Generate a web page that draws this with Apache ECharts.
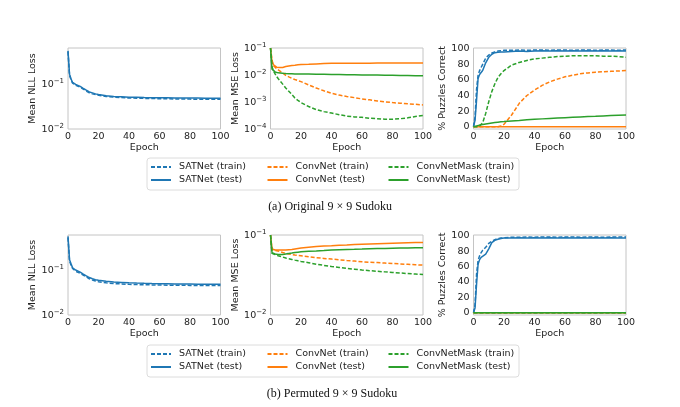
<!DOCTYPE html>
<html>
<head>
<meta charset="utf-8">
<script src="https://cdn.jsdelivr.net/npm/echarts@6/dist/echarts.min.js"></script>
<style>
  html, body { margin: 0; padding: 0; background: #fff; }
  #chart { width: 680px; height: 407px; }
</style>
</head>
<body>
<div id="chart"></div>
<script>
/* SATNet vs ConvNet sudoku training curves */
var epochs = [0, 1, 2, 3, 4, 5, 6, 8, 10, 12, 14, 16, 18, 20, 25, 30, 35, 40, 45, 50, 55, 60, 65, 70, 75, 80, 85, 90, 95, 100];

// (a) original sudoku
var satNllTrainA = [0.50, 0.15, 0.12, 0.102, 0.095, 0.092, 0.089, 0.083, 0.075, 0.068, 0.062, 0.059, 0.057, 0.055, 0.052, 0.050, 0.049, 0.048, 0.0474, 0.047, 0.0466, 0.0463, 0.046, 0.0457, 0.0455, 0.0453, 0.0451, 0.045, 0.0449, 0.0448];
var satNllTestA = [0.52, 0.16, 0.125, 0.105, 0.098, 0.095, 0.092, 0.086, 0.078, 0.071, 0.065, 0.062, 0.059, 0.057, 0.054, 0.052, 0.051, 0.050, 0.0495, 0.049, 0.0488, 0.0485, 0.0483, 0.0481, 0.048, 0.0478, 0.0477, 0.0476, 0.0475, 0.0475];
var convMseTrainA = [0.1, 0.035, 0.022, 0.019, 0.017, 0.0155, 0.0143, 0.012, 0.0097, 0.0085, 0.0075, 0.0068, 0.0062, 0.0057, 0.0043, 0.0033, 0.0026, 0.0021, 0.0018, 0.0016, 0.00145, 0.0013, 0.0012, 0.0011, 0.00102, 0.00095, 0.0009, 0.00086, 0.00082, 0.00078];
var convMseTestA = [0.1, 0.03, 0.024, 0.021, 0.0195, 0.019, 0.0188, 0.019, 0.0205, 0.0215, 0.0225, 0.023, 0.0238, 0.0243, 0.025, 0.0258, 0.0265, 0.027, 0.0272, 0.0273, 0.0274, 0.0275, 0.0275, 0.0276, 0.0276, 0.0277, 0.0277, 0.0277, 0.0278, 0.0278];
var maskMseTrainA = [0.1, 0.02, 0.014, 0.011, 0.0088, 0.0074, 0.0063, 0.0046, 0.0033, 0.0025, 0.0019, 0.0014, 0.00115, 0.00095, 0.00068, 0.00052, 0.00044, 0.00039, 0.00034, 0.0003, 0.00028, 0.00027, 0.00025, 0.00024, 0.00023, 0.00023, 0.00024, 0.00026, 0.00029, 0.00032];
var maskMseTestA = [0.1, 0.0165, 0.014, 0.013, 0.0125, 0.012, 0.0118, 0.0115, 0.0113, 0.0112, 0.0111, 0.011, 0.011, 0.0109, 0.0108, 0.0107, 0.0106, 0.0105, 0.0104, 0.0103, 0.0102, 0.0101, 0.01, 0.0099, 0.0098, 0.0097, 0.0096, 0.0095, 0.0094, 0.0093];
var satPctTrainA = [0, 12, 48, 66, 72, 76, 80, 88, 92, 94.5, 96, 97, 97.5, 98, 98, 98.5, 98, 98.5, 98.5, 98, 98.5, 98.5, 98, 98.5, 98.5, 98, 98.5, 98.5, 98, 98.5];
var satPctTestA = [0, 8, 34, 62, 67, 69, 72, 82, 89, 93, 95, 95.5, 96, 96, 96.5, 97, 96.5, 97, 97.5, 97, 97.5, 97, 97.5, 97, 97.5, 97, 97.5, 97, 97.5, 97];
var convPctTrainA = [0, 0, 0, 0, 0, 0, 0, 0, 0, 0, 0, 0, 1, 3, 15, 30, 40, 47, 53, 57.5, 61, 64, 66, 68, 69, 70, 70.5, 71, 71.5, 72];
var convPctTestA = [0, 0, 0, 0, 0, 0, 0, 0, 0, 0, 0, 0, 0, 0, 0, 0, 0, 0, 0, 0, 0, 0, 0, 0, 0, 0, 0, 0, 0, 0];
var maskPctTrainA = [0, 0, 0, 0.5, 1, 2, 5, 17, 32, 45, 55, 63, 68, 72, 79, 82.5, 85, 87, 88, 89, 90, 90.5, 91, 91, 91, 91, 90.5, 90.5, 90, 89];
var maskPctTestA = [0, 0.5, 1, 1.5, 2, 2.3, 2.7, 3.5, 4.2, 4.8, 5.3, 5.8, 6.2, 6.5, 7.3, 8, 8.8, 9.5, 10, 10.5, 11, 11.5, 12, 12.5, 13, 13.3, 13.8, 14.2, 14.6, 15];

// (b) permuted sudoku
var satNllTrainB = [0.52, 0.16, 0.128, 0.108, 0.098, 0.094, 0.09, 0.085, 0.077, 0.07, 0.064, 0.06, 0.057, 0.055, 0.052, 0.05, 0.049, 0.048, 0.0475, 0.047, 0.0467, 0.0464, 0.0461, 0.0459, 0.0457, 0.0455, 0.0453, 0.0452, 0.0451, 0.045];
var satNllTestB = [0.56, 0.17, 0.137, 0.112, 0.103, 0.1, 0.096, 0.09, 0.081, 0.074, 0.068, 0.064, 0.061, 0.059, 0.056, 0.054, 0.053, 0.052, 0.0512, 0.0505, 0.05, 0.0496, 0.0493, 0.049, 0.0488, 0.0486, 0.0484, 0.0482, 0.0481, 0.048];
var convMseTrainB = [0.1, 0.066, 0.065, 0.064, 0.0635, 0.063, 0.062, 0.0605, 0.059, 0.058, 0.057, 0.0562, 0.0555, 0.055, 0.0535, 0.052, 0.051, 0.05, 0.049, 0.048, 0.0472, 0.0463, 0.0457, 0.0452, 0.0446, 0.044, 0.0435, 0.043, 0.0425, 0.042];
var convMseTestB = [0.1, 0.067, 0.066, 0.065, 0.065, 0.065, 0.065, 0.065, 0.065, 0.0655, 0.066, 0.067, 0.068, 0.069, 0.0705, 0.072, 0.073, 0.0736, 0.0745, 0.0752, 0.076, 0.0766, 0.0772, 0.0778, 0.0784, 0.079, 0.0795, 0.08, 0.0803, 0.0805];
var maskMseTrainB = [0.1, 0.059, 0.058, 0.057, 0.056, 0.055, 0.0543, 0.053, 0.0515, 0.0505, 0.0495, 0.0485, 0.0476, 0.0467, 0.045, 0.0432, 0.0417, 0.0403, 0.0393, 0.0383, 0.0374, 0.0365, 0.0358, 0.0352, 0.0346, 0.034, 0.0335, 0.033, 0.0325, 0.032];
var maskMseTestB = [0.1, 0.06, 0.059, 0.058, 0.0575, 0.057, 0.057, 0.0572, 0.058, 0.0588, 0.0595, 0.0603, 0.061, 0.0616, 0.0625, 0.0632, 0.064, 0.065, 0.0655, 0.066, 0.0663, 0.0667, 0.0672, 0.0676, 0.068, 0.0684, 0.0687, 0.069, 0.0692, 0.0694];
var satPctTrainB = [0, 10, 50, 68, 74, 78, 81, 85, 90, 93, 95, 96.5, 97, 97.5, 98, 98, 98.5, 98, 98.5, 98.5, 98, 98.5, 98.5, 98, 98.5, 98.5, 98, 98.5, 98.5, 98.5];
var satPctTestB = [0, 6, 37, 63, 69, 72, 74, 76, 83, 91, 94, 95.5, 96.5, 97, 97, 97.5, 97, 97.5, 97, 97.5, 97, 97.5, 97, 97.5, 97, 97.5, 97, 97.5, 97, 97];
var zeroPctB = [0, 0, 0, 0, 0, 0, 0, 0, 0, 0, 0, 0, 0, 0, 0, 0, 0, 0, 0, 0, 0, 0, 0, 0, 0, 0, 0, 0, 0, 0];

var xTicks = [0, 20, 40, 60, 80, 100];
var pctTicks = [0, 20, 40, 60, 80, 100];
var nllTicks = [0.01, 0.1];
var mseTicksA = [0.0001, 0.001, 0.01, 0.1];
var mseTicksB = [0.01, 0.1];

var BLUE = '#1f77b4', ORANGE = '#ff7f0e', GREEN = '#2ca02c';
var FONT = '"DejaVu Sans", sans-serif';

(function () {
  'use strict';
  var chart = echarts.init(document.getElementById('chart'), null, { renderer: 'canvas' });

  // 10^p as base + raised exponent
  function powLabel(v) {
    var p = Math.round(Math.log10(v));
    return '{b|10}{s|' + (p < 0 ? '\u2212' + (-p) : p) + '}';
  }
  function pairs(vals) {
    return epochs.map(function (e, i) { return [e, vals[i]]; });
  }

  var lefts = [68, 270.5, 473.5];
  var tops = [48, 235];
  var grids = [], xAxes = [], yAxes = [];
  var yNames = ['Mean NLL Loss', 'Mean MSE Loss', '% Puzzles Correct'];
  var yGaps = [25, 24.5, 21.5];
  var yCfg = [
    { type: 'log', min: 0.01, max: 0.6, ticks: nllTicks },
    { type: 'log', min: 0.0001, max: 0.1, ticks: mseTicksA },
    { type: 'value', min: -3, max: 101, ticks: pctTicks },
    { type: 'log', min: 0.01, max: 0.6, ticks: nllTicks },
    { type: 'log', min: 0.01, max: 0.1, ticks: mseTicksB },
    { type: 'value', min: -3, max: 101, ticks: pctTicks }
  ];
  var labelRich = {
    b: { fontSize: 9.5, color: '#222', fontFamily: FONT, lineHeight: 12, verticalAlign: 'bottom' },
    s: { fontSize: 7, color: '#222', fontFamily: FONT, lineHeight: 6, verticalAlign: 'top' }
  };

  for (var i = 0; i < 6; i++) {
    var c = i % 3, r = Math.floor(i / 3);
    grids.push({
      left: lefts[c], top: tops[r], width: 152.5, height: r === 0 ? 81 : 80,
      show: true, borderColor: '#c4c4c4', borderWidth: 1, backgroundColor: '#fff'
    });
    xAxes.push({
      gridIndex: i, type: 'value', min: 0, max: 100,
      name: 'Epoch', nameLocation: 'middle', nameGap: 12.5,
      nameTextStyle: { fontSize: 9.5, color: '#222', fontFamily: FONT },
      axisLine: { show: false }, axisTick: { show: false }, splitLine: { show: false },
      axisLabel: { customValues: xTicks, margin: 3, fontSize: 9.5, color: '#222', fontFamily: FONT }
    });
    var yc = yCfg[i];
    var yLabel = { customValues: yc.ticks, margin: 4, fontSize: 9.5, color: '#222', fontFamily: FONT };
    if (yc.type === 'log') {
      yLabel.formatter = powLabel;
      yLabel.rich = labelRich;
    }
    yAxes.push({
      gridIndex: i, type: yc.type, min: yc.min, max: yc.max, logBase: 10,
      name: yNames[c], nameLocation: 'middle', nameGap: yGaps[c],
      nameTextStyle: { fontSize: 9.5, color: '#222', fontFamily: FONT },
      axisLine: { show: false }, axisTick: { show: false }, splitLine: { show: false },
      axisLabel: yLabel
    });
  }

  function line(name, gi, vals, dashed, color) {
    return {
      type: 'line', name: name, xAxisIndex: gi, yAxisIndex: gi,
      data: pairs(vals), symbol: 'none', showSymbol: false, animation: false,
      lineStyle: { width: 1.5, color: color, type: dashed ? [4, 2] : 'solid' },
      itemStyle: { color: color, opacity: 0 }
    };
  }

  var series = [
    line('SATNet (test)', 0, satNllTestA, false, BLUE),
    line('SATNet (train)', 0, satNllTrainA, true, BLUE),
    line('ConvNet (train)', 1, convMseTrainA, true, ORANGE),
    line('ConvNet (test)', 1, convMseTestA, false, ORANGE),
    line('ConvNetMask (train)', 1, maskMseTrainA, true, GREEN),
    line('ConvNetMask (test)', 1, maskMseTestA, false, GREEN),
    line('SATNet (test)', 2, satPctTestA, false, BLUE),
    line('SATNet (train)', 2, satPctTrainA, true, BLUE),
    line('ConvNet (train)', 2, convPctTrainA, true, ORANGE),
    line('ConvNet (test)', 2, convPctTestA, false, ORANGE),
    line('ConvNetMask (train)', 2, maskPctTrainA, true, GREEN),
    line('ConvNetMask (test)', 2, maskPctTestA, false, GREEN),

    line('SATNet (test)', 3, satNllTestB, false, BLUE),
    line('SATNet (train)', 3, satNllTrainB, true, BLUE),
    line('ConvNet (train)', 4, convMseTrainB, true, ORANGE),
    line('ConvNet (test)', 4, convMseTestB, false, ORANGE),
    line('ConvNetMask (train)', 4, maskMseTrainB, true, GREEN),
    line('ConvNetMask (test)', 4, maskMseTestB, false, GREEN),
    line('SATNet (test)', 5, satPctTestB, false, BLUE),
    line('SATNet (train)', 5, satPctTrainB, true, BLUE),
    line('ConvNet (train)', 5, zeroPctB, true, ORANGE),
    line('ConvNet (test)', 5, zeroPctB, false, ORANGE),
    line('ConvNetMask (train)', 5, zeroPctB, true, GREEN),
    line('ConvNetMask (test)', 5, zeroPctB, false, GREEN)
  ];

  var legendCols = [
    { left: 150, names: ['SATNet (train)', 'SATNet (test)'] },
    { left: 266.5, names: ['ConvNet (train)', 'ConvNet (test)'] },
    { left: 387.5, names: ['ConvNetMask (train)', 'ConvNetMask (test)'] }
  ];
  var legendTops = [161.5, 348.5];
  var legends = [];
  legendTops.forEach(function (t) {
    legendCols.forEach(function (col) {
      legends.push({
        orient: 'vertical', left: col.left, top: t, padding: 0,
        itemWidth: 20, itemHeight: 8, itemGap: 2, selectedMode: false,
        data: col.names,
        itemStyle: { opacity: 0 },
        textStyle: { fontSize: 9.5, color: '#222', fontFamily: FONT, lineHeight: 11, padding: [0, 0, 0, 3] }
      });
    });
  });

  var captionFont = '12px "Liberation Serif", "Times New Roman", serif';
  var option = {
    backgroundColor: '#fff',
    animation: false,
    textStyle: { fontFamily: FONT },
    grid: grids,
    xAxis: xAxes,
    yAxis: yAxes,
    legend: legends,
    series: series,
    graphic: [
      { type: 'rect', z: -1, shape: { x: 147, y: 158, width: 372, height: 32, r: 3 },
        style: { fill: '#fff', stroke: '#dcdcdc', lineWidth: 1 } },
      { type: 'rect', z: -1, shape: { x: 147, y: 345, width: 372, height: 32, r: 3 },
        style: { fill: '#fff', stroke: '#dcdcdc', lineWidth: 1 } },
      { type: 'text', x: 330, y: 207,
        style: { text: '(a) Original 9 \u00d7 9 Sudoku', font: captionFont, fill: '#111', textAlign: 'center', textVerticalAlign: 'middle' } },
      { type: 'text', x: 332, y: 394,
        style: { text: '(b) Permuted 9 \u00d7 9 Sudoku', font: captionFont, fill: '#111', textAlign: 'center', textVerticalAlign: 'middle' } }
    ]
  };

  chart.setOption(option);
  window.addEventListener('resize', function () { chart.resize(); });
})();
</script>
</body>
</html>
